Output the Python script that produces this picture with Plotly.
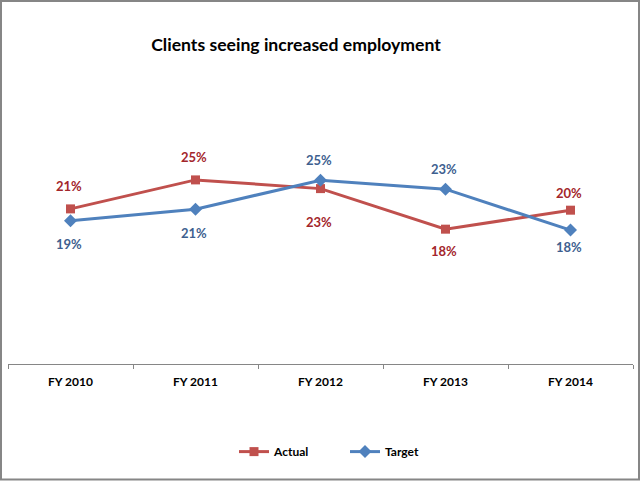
import plotly.graph_objects as go

categories = ["FY 2010", "FY 2011", "FY 2012", "FY 2013", "FY 2014"]
actual = [0.2058, 0.2461, 0.2340, 0.1776, 0.2040]
target = [0.1892, 0.2054, 0.2457, 0.2332, 0.1763]
title_text = "Clients seeing increased employment"

# label placement (pixels, + is up)
actual_shift = [23, 23, -33, -22, 17]
target_shift = [-23, -24, 20, 20, -17]

W, H = 640, 481
L, R = 8, 7
T, B = 80, 481 - 364.3
pw, ph = W - L - R, H - T - B

RED = "#C0504D"
BLUE = "#4F81BD"
RED_TXT = "#A3262B"
BLUE_TXT = "#3E5F8F"
FONT = "Lato"

fig = go.Figure()
fig.add_trace(go.Scatter(
    x=categories, y=actual, name="Actual", mode="lines+markers",
    line=dict(color=RED, width=3),
    marker=dict(symbol="square", size=9, color=RED),
))
fig.add_trace(go.Scatter(
    x=categories, y=target, name="Target", mode="lines+markers",
    line=dict(color=BLUE, width=3),
    marker=dict(symbol="diamond", size=10, color=BLUE),
))

annotations = []
for c, v, s in zip(categories, actual, actual_shift):
    annotations.append(dict(x=c, y=v, text=f"{v:.0%}", showarrow=False,
                            yshift=s, xshift=-2,
                            font=dict(family=FONT, size=13, color=RED_TXT, weight="bold")))
for c, v, s in zip(categories, target, target_shift):
    annotations.append(dict(x=c, y=v, text=f"{v:.0%}", showarrow=False,
                            yshift=s, xshift=-2,
                            font=dict(family=FONT, size=13, color=BLUE_TXT, weight="bold")))

fig.update_layout(
    width=W, height=H,
    margin=dict(l=L, r=R, t=T, b=B, pad=0),
    paper_bgcolor="white", plot_bgcolor="white",
    title=dict(text=title_text, x=296 / W, xanchor="center", xref="container",
               y=1 - 45 / H, yanchor="middle", yref="container",
               font=dict(family=FONT, size=17.6, color="black", weight="bold")),
    xaxis=dict(type="category", range=[-0.5, 4.5], showgrid=False,
               showline=True, linecolor="#868686", linewidth=1,
               ticks="outside", ticklen=4, tickcolor="#868686", tickson="boundaries",
               ticklabelstandoff=7,
               tickfont=dict(family=FONT, size=12, color="black", weight="bold"),
               zeroline=False, fixedrange=True),
    yaxis=dict(visible=False, range=[-0.00986, 0.385], showgrid=False, zeroline=False,
               fixedrange=True),
    showlegend=True,
    legend=dict(orientation="h", x=(234 - L) / pw, xanchor="left", y=(364.3 - 452) / ph,
                yanchor="middle", font=dict(family=FONT, size=12, color="black", weight="bold"),
                itemwidth=30, entrywidth=66, tracegroupgap=0),
    annotations=annotations,
    shapes=[dict(type="rect", xref="paper", yref="paper",
                 x0=(1 - L) / pw, x1=(639 - L) / pw,
                 y0=(364.3 - 480) / ph, y1=(364.3 - 1) / ph,
                 line=dict(color="#868686", width=2), fillcolor="rgba(0,0,0,0)")],
)

fig.write_html("out.html", config={"displayModeBar": False},
               post_script="document.body.style.margin='0';document.body.style.overflow='hidden';")
